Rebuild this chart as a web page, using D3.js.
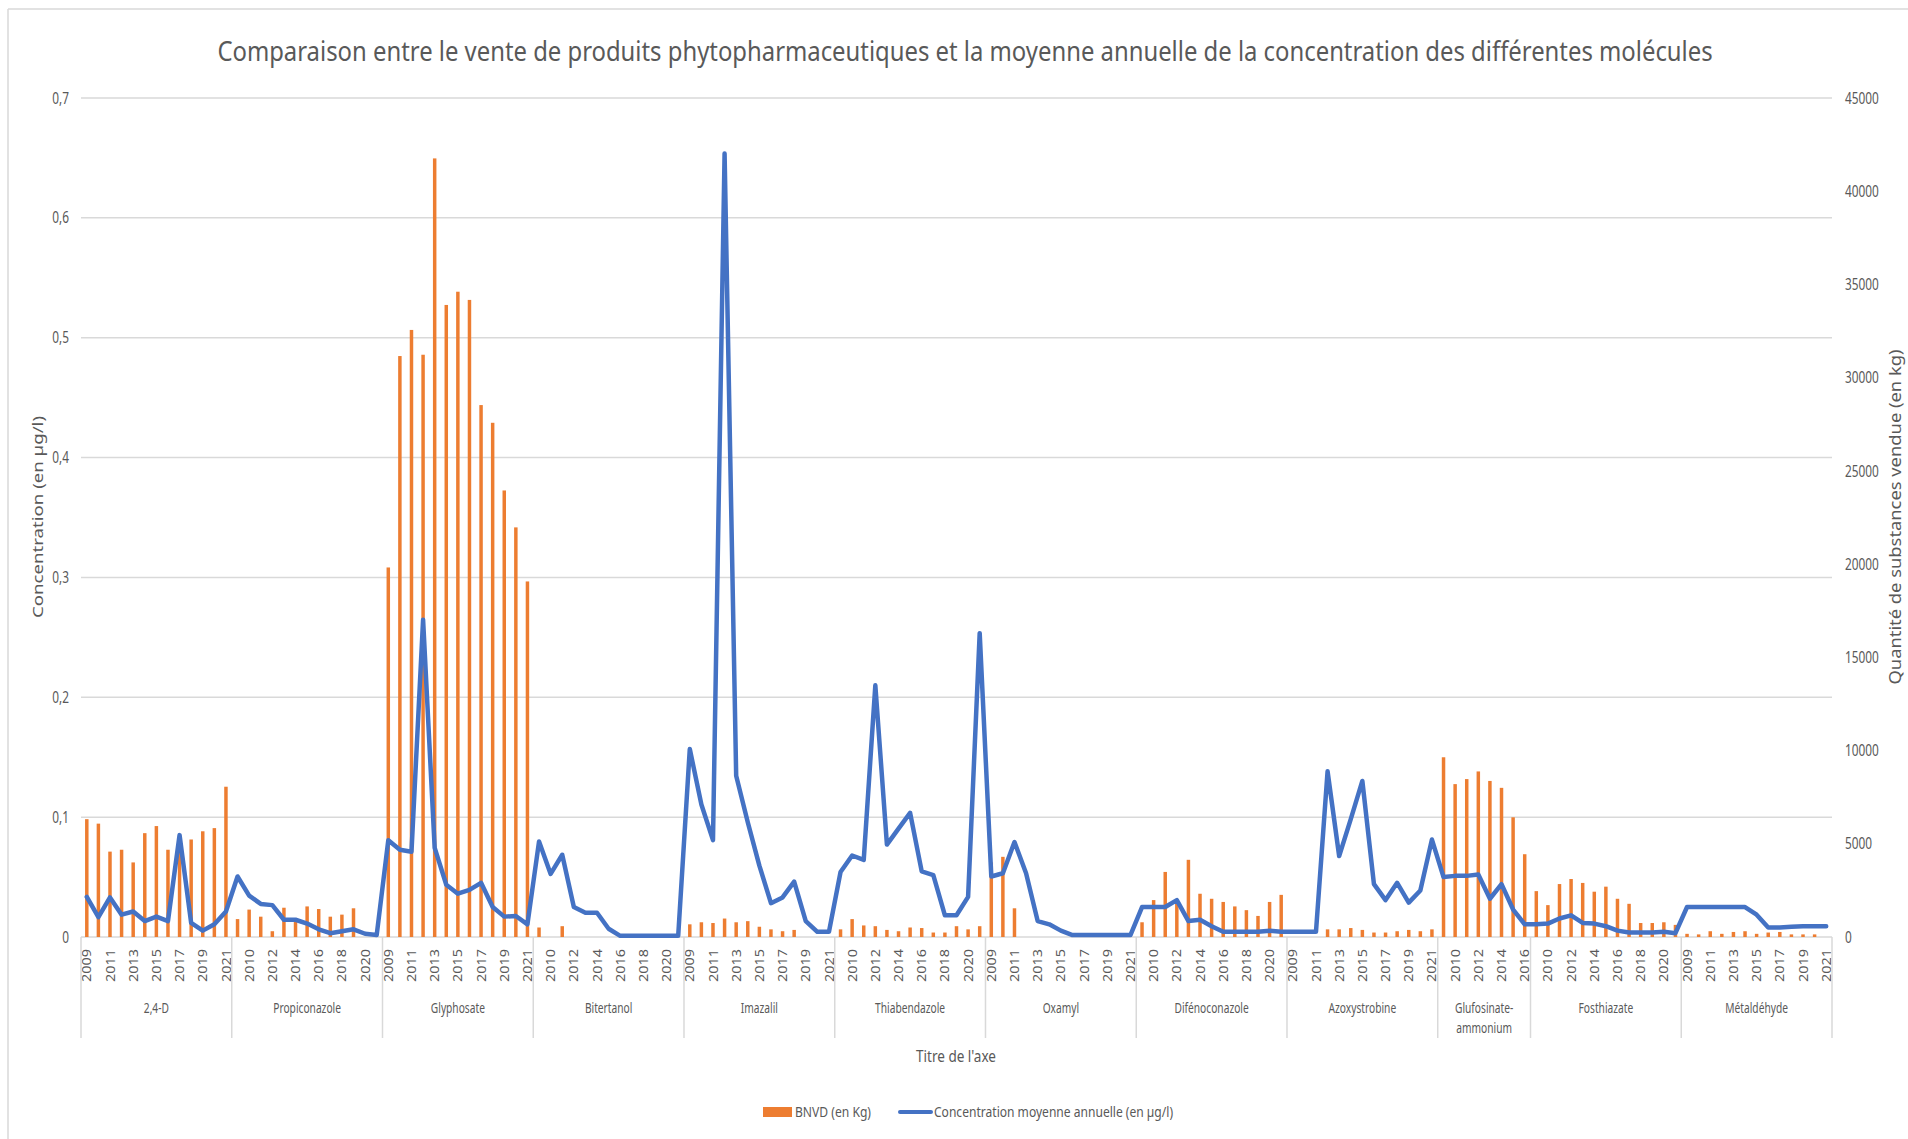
<!DOCTYPE html>
<html>
<head>
<meta charset="utf-8">
<script src="https://cdn.jsdelivr.net/npm/d3@7"></script>
<style>
  body { margin: 0; background: #fff; }
  text { font-family: "Noto Sans", sans-serif; fill: #595959; }
</style>
</head>
<body>
<div id="visual"></div>
<script>
// molecules and years
const molecules = ["2,4-D", "Propiconazole", "Glyphosate", "Bitertanol", "Imazalil", "Thiabendazole",
  "Oxamyl", "Difénoconazole", "Azoxystrobine", "Glufosinate-ammonium", "Fosthiazate", "Métaldéhyde"];
const years = ["2009", "2010", "2011", "2012", "2013", "2014", "2015", "2016", "2017", "2018", "2019", "2020", "2021"];

// BNVD (en Kg), one array per molecule
const bnvd = [
  [6320, 6080, 4580, 4680, 4000, 5570, 5950, 4680, 4750, 5230, 5670, 5840, 8060],
  [960, 1470, 1090, 310, 1570, 900, 1640, 1500, 1090, 1200, 1540, 0, 0],
  [19820, 31160, 32560, 31230, 41760, 33900, 34610, 34170, 28530, 27580, 23950, 21970, 19070],
  [510, 0, 580, 0, 0, 0, 0, 0, 0, 0, 0, 0, 0],
  [680, 790, 750, 990, 790, 850, 550, 410, 310, 380, 0, 0, 0],
  [410, 960, 620, 580, 380, 310, 510, 480, 240, 240, 580, 410, 580],
  [4000, 4300, 1540, 0, 0, 0, 0, 0, 0, 0, 0, 0, 0],
  [790, 1980, 3490, 1930, 4140, 2320, 2050, 1880, 1640, 1440, 1130, 1880, 2260],
  [0, 0, 0, 410, 410, 480, 380, 240, 240, 310, 380, 310, 410],
  [9640, 8200, 8470, 8880, 8370, 8000, 6420, 4440],
  [2460, 1710, 2840, 3110, 2900, 2430, 2700, 2050, 1780, 750, 750, 790, 650],
  [170, 140, 310, 170, 270, 310, 170, 240, 270, 140, 140, 140, 0]
];

// Concentration moyenne annuelle (en µg/l)
const conc = [
  [0.0335, 0.0165, 0.033, 0.0186, 0.0213, 0.0133, 0.017, 0.0133, 0.085, 0.0117, 0.0053, 0.0106, 0.0213],
  [0.0505, 0.0345, 0.0276, 0.0266, 0.0144, 0.0144, 0.0112, 0.0064, 0.0032, 0.0048, 0.0064, 0.0027, 0.0016],
  [0.0808, 0.0728, 0.0712, 0.2647, 0.0744, 0.0436, 0.0361, 0.0393, 0.0452, 0.025, 0.017, 0.0175, 0.0106],
  [0.0797, 0.0526, 0.0686, 0.025, 0.0202, 0.0202, 0.0069, 0.001, 0.001, 0.001, 0.001, 0.001, 0.001],
  [0.1568, 0.1106, 0.0808, 0.6537, 0.1345, 0.0957, 0.0595, 0.0282, 0.033, 0.0462, 0.0133, 0.0043, 0.0043],
  [0.0542, 0.068, 0.0643, 0.21, 0.0771, 0.0904, 0.1036, 0.0547, 0.0516, 0.0181, 0.0181, 0.0335, 0.2535],
  [0.0505, 0.0532, 0.0792, 0.0532, 0.0133, 0.0106, 0.0053, 0.0016, 0.0016, 0.0016, 0.0016, 0.0016, 0.0016],
  [0.025, 0.025, 0.025, 0.0308, 0.0133, 0.0144, 0.009, 0.0043, 0.0043, 0.0043, 0.0043, 0.0053, 0.0043],
  [0.0043, 0.0043, 0.0043, 0.1382, 0.0675, 0.0983, 0.1302, 0.0441, 0.0308, 0.0452, 0.0287, 0.0388, 0.0813],
  [0.05, 0.051, 0.051, 0.0521, 0.0319, 0.0441, 0.0229, 0.0106],
  [0.0106, 0.0112, 0.0154, 0.0181, 0.0117, 0.0112, 0.009, 0.0053, 0.0037, 0.0037, 0.0037, 0.0043, 0.0032],
  [0.025, 0.025, 0.025, 0.025, 0.025, 0.025, 0.0186, 0.008, 0.008, 0.0085, 0.009, 0.009, 0.009]
];

const leftTicks = [0, 0.1, 0.2, 0.3, 0.4, 0.5, 0.6, 0.7];
const rightTicks = [0, 5000, 10000, 15000, 20000, 25000, 30000, 35000, 40000, 45000];

// flat list of categories
const dataset = [];
const groups = [];
molecules.forEach(function (m, g) {
  groups.push({ name: m, start: dataset.length, n: bnvd[g].length });
  bnvd[g].forEach(function (v, j) {
    dataset.push({ i: dataset.length, mol: m, year: years[j], kg: v, c: conc[g][j] });
  });
});

const w = 1908;
const h = 1139;
const padL = 81, padR = 1832, padT = 98, padB = 937;
const orange = "#ED7D31", blue = "#4472C4", grid = "#d9d9d9";

const svgC = d3.select("#visual").append("svg").attr("width", w).attr("height", h);

// squeeze text to the narrow look of the original
function condense(sel, k) {
  sel.each(function () {
    const len = this.getComputedTextLength();
    d3.select(this).attr("textLength", len * k).attr("lengthAdjust", "spacingAndGlyphs");
  });
}

// chart border
svgC.append("line").attr("x1", 8).attr("x2", w).attr("y1", 9).attr("y2", 9).attr("stroke", grid).attr("stroke-width", 1.5);
svgC.append("line").attr("x1", 8).attr("x2", 8).attr("y1", 9).attr("y2", h).attr("stroke", grid).attr("stroke-width", 1.5);

const xScale = d3.scaleBand().domain(dataset.map(d => d.i)).range([padL, padR]).padding(0);
const bw = xScale.bandwidth();
const yLeft = d3.scaleLinear().domain([0, 0.7]).range([padB, padT]);
const yRight = d3.scaleLinear().domain([0, 45000]).range([padB, padT]);

// gridlines
svgC.append("g").selectAll("line").data(leftTicks).enter().append("line").
  attr("x1", padL).attr("x2", padR).
  attr("y1", d => yLeft(d)).attr("y2", d => yLeft(d)).
  attr("stroke", grid).attr("stroke-width", 1.5);

// y axes
const yAxisL = d3.axisLeft(yLeft).tickValues(leftTicks).tickSize(0).tickPadding(12).
  tickFormat(d => d === 0 ? "0" : d3.format(".1f")(d).replace(".", ","));
const gl = svgC.append("g").attr("transform", "translate(" + padL + ",0)").call(yAxisL);
gl.select(".domain").remove();
gl.selectAll("text").style("font-size", "16px").attr("fill", "#595959").call(condense, 0.74);

const yAxisR = d3.axisRight(yRight).tickValues(rightTicks).tickSize(0).tickPadding(13).tickFormat(d3.format("d"));
const gr = svgC.append("g").attr("transform", "translate(" + padR + ",0)").call(yAxisR);
gr.select(".domain").remove();
gr.selectAll("text").style("font-size", "16px").attr("fill", "#595959").call(condense, 0.74);

// bars (right axis)
svgC.append("g").selectAll("rect").data(dataset.filter(d => d.kg > 0)).enter().append("rect").
  attr("x", d => xScale(d.i) + bw * 0.35).
  attr("width", bw * 0.3).
  attr("y", d => yRight(d.kg)).
  attr("height", d => yRight(0) - yRight(d.kg)).
  attr("fill", orange);

// line (left axis)
const line = d3.line().x(d => xScale(d.i) + bw / 2).y(d => yLeft(d.c));
svgC.append("path").datum(dataset).attr("d", line).
  attr("fill", "none").attr("stroke", blue).attr("stroke-width", 4.5).
  attr("stroke-linejoin", "round").attr("stroke-linecap", "round");

// x axis: years
svgC.append("g").selectAll("text").data(dataset.filter(d => d.i % 2 === 0)).enter().append("text").
  attr("transform", d => "translate(" + (xScale(d.i) + bw / 2) + ",949) rotate(-90)").
  attr("text-anchor", "end").attr("dy", "0.35em").
  style("font-size", "13px").
  attr("textLength", 33).attr("lengthAdjust", "spacingAndGlyphs").
  text(d => d.year);

// group separators
const seps = groups.map(g => g.start).concat([dataset.length]);
svgC.append("g").selectAll("line").data(seps).enter().append("line").
  attr("x1", d => d < dataset.length ? xScale(d) : padR).
  attr("x2", d => d < dataset.length ? xScale(d) : padR).
  attr("y1", padB).attr("y2", 1038).
  attr("stroke", grid).attr("stroke-width", 1.5);

// group labels
const gLab = svgC.append("g").selectAll("text").data(groups).enter().append("text").
  attr("x", g => xScale(g.start) + g.n * bw / 2).
  attr("y", 1008).attr("text-anchor", "middle").attr("dy", "0.35em").
  style("font-size", "15px");
gLab.each(function (g) {
  const t = d3.select(this);
  if (g.name === "Glufosinate-ammonium") {
    t.attr("dy", null).attr("y", 1013);
    t.append("tspan").attr("x", xScale(g.start) + g.n * bw / 2).text("Glufosinate-");
    t.append("tspan").attr("x", xScale(g.start) + g.n * bw / 2).attr("dy", 20).text("ammonium");
  } else {
    t.text(g.name);
  }
});
gLab.filter(g => g.name !== "Glufosinate-ammonium").call(condense, 0.68);
gLab.selectAll("tspan").call(condense, 0.68);

// axis labels
svgC.append("text").attr("x", 956).attr("y", 1056).attr("dy", "0.35em").
  attr("text-anchor", "middle").style("font-size", "17px").
  attr("textLength", 80).attr("lengthAdjust", "spacingAndGlyphs").
  text("Titre de l'axe");

svgC.append("text").attr("transform", "translate(38,517) rotate(-90)").
  attr("text-anchor", "middle").attr("dy", "0.35em").style("font-size", "15px").
  attr("textLength", 202).attr("lengthAdjust", "spacingAndGlyphs").
  text("Concentration (en µg/l)");

svgC.append("text").attr("transform", "translate(1895,517) rotate(-90)").
  attr("text-anchor", "middle").attr("dy", "0.35em").style("font-size", "16px").
  attr("textLength", 335).attr("lengthAdjust", "spacingAndGlyphs").
  text("Quantité de substances vendue (en kg)");

// title, squeezed horizontally with a transform so its box stays inside the page
const title = svgC.append("text").attr("x", 0).attr("y", 0).attr("dy", "0.35em").
  attr("text-anchor", "middle").style("font-size", "28px").
  text("Comparaison entre le vente de produits phytopharmaceutiques et la moyenne annuelle de la concentration des différentes molécules");
const tLen = title.node().getComputedTextLength();
title.attr("transform", "translate(965,51) scale(" + (1496 / tLen) + ",1)");

// legend
const legend = svgC.append("g").attr("id", "legend");
legend.append("rect").attr("x", 763).attr("y", 1107).attr("width", 29).attr("height", 10).attr("fill", orange);
legend.append("text").attr("x", 795).attr("y", 1112).attr("dy", "0.35em").style("font-size", "15px").
  attr("textLength", 76).attr("lengthAdjust", "spacingAndGlyphs").text("BNVD (en Kg)");
legend.append("line").attr("x1", 900).attr("x2", 931).attr("y1", 1112).attr("y2", 1112).
  attr("stroke", blue).attr("stroke-width", 4).attr("stroke-linecap", "round");
legend.append("text").attr("x", 934).attr("y", 1112).attr("dy", "0.35em").style("font-size", "15px").
  attr("textLength", 239).attr("lengthAdjust", "spacingAndGlyphs").text("Concentration moyenne annuelle (en µg/l)");
</script>
</body>
</html>
